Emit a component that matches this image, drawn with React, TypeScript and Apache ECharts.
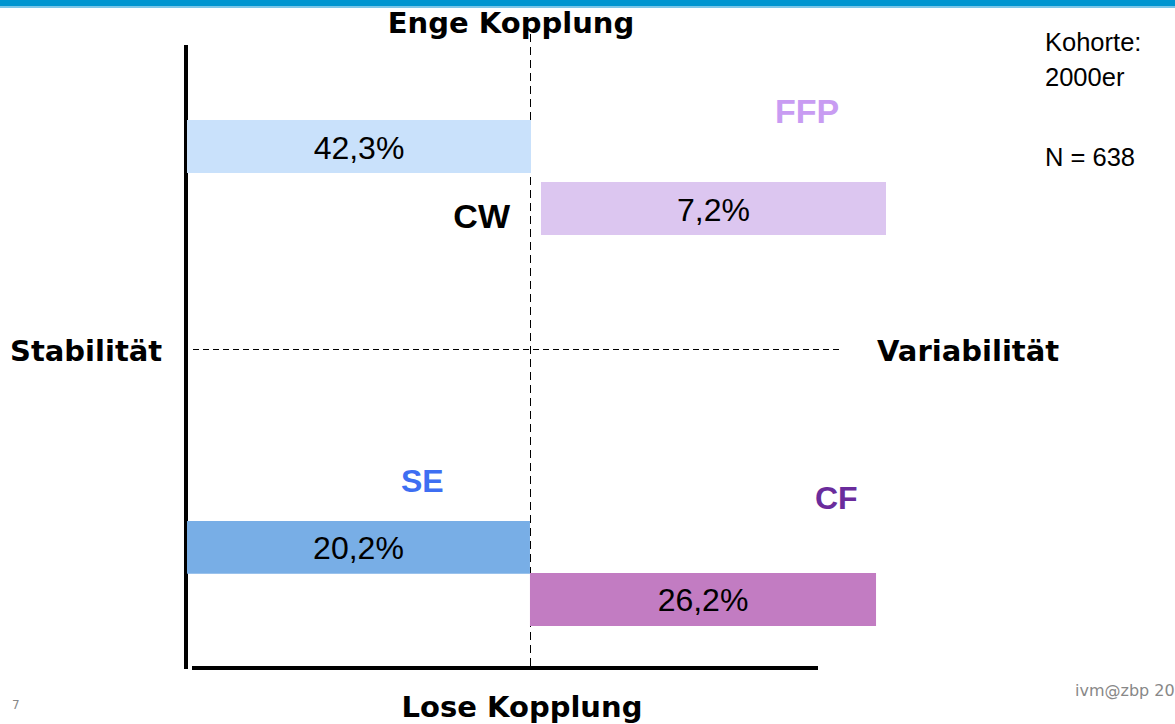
import React, { useEffect, useRef } from "react";
import * as echarts from "echarts";

// ---- data ----
const quadrants = ["CW", "FFP", "SE", "CF"];
const shares = [42.3, 7.2, 20.2, 26.2];
// 0 = Stabilität, 1 = Variabilität
const sideIdx = [0, 1, 0, 1];
// 0 = Enge Kopplung, 1 = Lose Kopplung
const couplingIdx = [0, 0, 1, 1];
const sideLabels = ["Stabilität", "Variabilität"];
const couplingLabels = ["Enge Kopplung", "Lose Kopplung"];
const cohortLines = ["Kohorte:", "2000er", "N = 638"];

// ---- style / layout (not data) ----
const barColors = ["#c9e1fb", "#dcc6f0", "#78aee6", "#c27cc2"];
const labelColors = ["#000000", "#c89cf2", "#3e6ef2", "#6a2c9c"];
const cohortY = [42, 77, 157];
// bar extent inside its quadrant: [x0, x1, yTop, yBottom] as fractions
const barLayout = [
  [0.0, 1.0, 0.27, 0.438],
  [0.029, 1.032, 0.467, 0.635],
  [0.0, 0.997, 0.543, 0.71],
  [-0.003, 1.003, 0.708, 0.876],
];

const fmt = (v: number) => v.toFixed(1).replace(".", ",") + "%";

export default function App() {
  const ref = useRef<HTMLDivElement>(null);
  useEffect(() => {
    if (!ref.current) return;
    const chart = echarts.init(ref.current, null, { renderer: "svg" });
    const data = quadrants.map((q, i) => [sideIdx[i], couplingIdx[i], shares[i], i]);
    const bold = "DejaVu Sans";
    const arial = "Liberation Sans";
    chart.setOption({
      animation: false,
      backgroundColor: "#ffffff",
      grid: { left: 187, top: 35, width: 688, height: 630 },
      xAxis: { type: "value", min: 0, max: 2, show: false },
      yAxis: { type: "value", min: 0, max: 2, show: false },
      series: [
        {
          type: "custom",
          data,
          renderItem: (params: any, api: any) => {
            const col = api.value(0);
            const row = api.value(1);
            const val = api.value(2);
            const i = api.value(3);
            const L = barLayout[i];
            const p0 = api.coord([col + L[0], 2 - row - L[2]]);
            const p1 = api.coord([col + L[1], 2 - row - L[3]]);
            const x = p0[0];
            const y = p0[1];
            const w = p1[0] - p0[0];
            const h = p1[1] - p0[1];
            return {
              type: "group",
              children: [
                {
                  type: "rect",
                  shape: { x, y, width: w, height: h },
                  style: { fill: barColors[i] },
                },
                {
                  type: "text",
                  style: {
                    text: fmt(val),
                    x: x + w / 2,
                    y: y + h / 2 + 1,
                    align: "center",
                    verticalAlign: "middle",
                    fontFamily: arial,
                    fontSize: 32,
                    fill: "#000",
                  },
                },
              ],
            };
          },
        },
      ],
      graphic: [
        { type: "rect", shape: { x: 0, y: 0, width: 1175, height: 6 }, style: { fill: "#0095d0" } },
        { type: "rect", shape: { x: 0, y: 6, width: 1175, height: 2 }, style: { fill: "#7cc6e8" } },
        // frame
        { type: "line", shape: { x1: 186, y1: 45, x2: 186, y2: 669 }, style: { stroke: "#000", lineWidth: 4 } },
        { type: "line", shape: { x1: 192, y1: 668, x2: 818, y2: 668 }, style: { stroke: "#000", lineWidth: 4 } },
        // dashed cross
        { type: "line", shape: { x1: 530.5, y1: 34, x2: 530.5, y2: 670 }, style: { stroke: "#000", lineWidth: 1, lineDash: [8, 5] } },
        { type: "line", shape: { x1: 193, y1: 349.5, x2: 842, y2: 349.5 }, style: { stroke: "#000", lineWidth: 1, lineDash: [6, 4] } },
        // axis titles
        { type: "text", style: { text: couplingLabels[0], x: 511, y: 23, align: "center", verticalAlign: "middle", fontFamily: bold, fontWeight: "bold", fontSize: 29, fill: "#000" } },
        { type: "text", style: { text: couplingLabels[1], x: 522, y: 707, align: "center", verticalAlign: "middle", fontFamily: bold, fontWeight: "bold", fontSize: 29, fill: "#000" } },
        { type: "text", style: { text: sideLabels[0], x: 10, y: 351, align: "left", verticalAlign: "middle", fontFamily: bold, fontWeight: "bold", fontSize: 29, fill: "#000" } },
        { type: "text", style: { text: sideLabels[1], x: 877, y: 351, align: "left", verticalAlign: "middle", fontFamily: bold, fontWeight: "bold", fontSize: 29, fill: "#000" } },
        // quadrant labels
        { type: "text", style: { text: quadrants[0], x: 510, y: 216, align: "right", verticalAlign: "middle", fontFamily: arial, fontWeight: "bold", fontSize: 34, fill: labelColors[0] } },
        { type: "text", style: { text: quadrants[1], x: 775, y: 111, align: "left", verticalAlign: "middle", fontFamily: arial, fontWeight: "bold", fontSize: 34, fill: labelColors[1] } },
        { type: "text", style: { text: quadrants[2], x: 401, y: 481, align: "left", verticalAlign: "middle", fontFamily: arial, fontWeight: "bold", fontSize: 32, fill: labelColors[2] } },
        { type: "text", style: { text: quadrants[3], x: 815, y: 498, align: "left", verticalAlign: "middle", fontFamily: arial, fontWeight: "bold", fontSize: 32, fill: labelColors[3] } },
        // cohort info
        ...cohortLines.map((t, k) => ({
          type: "text",
          style: { text: t, x: 1045, y: cohortY[k], align: "left", verticalAlign: "middle", fontFamily: arial, fontSize: 25.5, fill: "#000" },
        })),
        // footer
        { type: "text", style: { text: "7", x: 12, y: 705, align: "left", verticalAlign: "middle", fontFamily: bold, fontSize: 12, fill: "#888" } },
        { type: "text", style: { text: "ivm@zbp 20", x: 1075, y: 690, align: "left", verticalAlign: "middle", fontFamily: bold, fontSize: 16, fill: "#888" } },
      ],
    });
    return () => chart.dispose();
  }, []);
  return (
    <div
      ref={ref}
      style={{ position: "fixed", left: 0, top: 0, width: 1175, height: 724 }}
    />
  );
}
